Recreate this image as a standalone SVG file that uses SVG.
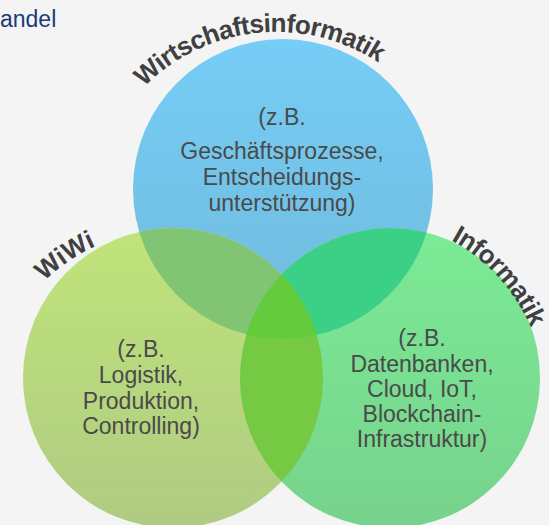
<svg xmlns="http://www.w3.org/2000/svg" width="549" height="525" viewBox="0 0 549 525">
  <style>
    .arc { font-family: "Liberation Sans", Arial, sans-serif; font-weight: bold; font-size: 26px; fill: #404040; }
    .body { font-family: "Liberation Sans", Arial, sans-serif; font-size: 23px; fill: #4a4a4a; text-anchor: middle; }
    .head { font-family: "Liberation Sans", Arial, sans-serif; font-size: 23px; fill: #1c3b7a; }
  </style>
  <defs>
    <linearGradient id="gBlue" x1="0" y1="0" x2="0" y2="1">
      <stop offset="0" stop-color="#76CDF6"/>
      <stop offset="1" stop-color="#70BADC"/>
    </linearGradient>
    <linearGradient id="gLeft" x1="0" y1="0" x2="0" y2="1">
      <stop offset="0" stop-color="#C0E47A"/>
      <stop offset="1" stop-color="#AFCB82"/>
    </linearGradient>
    <linearGradient id="gRight" x1="0" y1="0" x2="0" y2="1">
      <stop offset="0" stop-color="#7BEB96"/>
      <stop offset="1" stop-color="#77D28C"/>
    </linearGradient>
    <clipPath id="cBlue"><circle cx="283" cy="189" r="150"/></clipPath>
    <clipPath id="cLeft"><circle cx="173" cy="378" r="150"/></clipPath>
    <clipPath id="cRight"><circle cx="390" cy="378" r="150"/></clipPath>
    <path id="pTop" d="M 95.5 173 A 186 186 0 0 1 443.2 136.5" fill="none"/>
    <path id="pLeft" d="M -8.5 421.5 A 177 177 0 0 1 246 249" fill="none"/>
    <path id="pRight" d="M 326 222 A 182 182 0 0 1 538 453" fill="none"/>
  </defs>
  <rect x="0" y="0" width="549" height="525" fill="#F4F4F4"/>
  <text class="head" x="0" y="27">andel</text>

  <g id="circle-wirtschaftsinformatik">
    <circle cx="283" cy="189" r="150" fill="url(#gBlue)"/>
  </g>
  <g id="circle-wiwi">
    <circle cx="173" cy="378" r="150" fill="url(#gLeft)"/>
  </g>
  <g id="circle-informatik">
    <circle cx="390" cy="378" r="150" fill="url(#gRight)"/>
  </g>
  <g id="overlaps">
    <circle cx="173" cy="378" r="150" fill="#80C474" clip-path="url(#cBlue)"/>
    <circle cx="390" cy="378" r="150" fill="#3CD086" clip-path="url(#cBlue)"/>
    <circle cx="173" cy="378" r="150" fill="#76C943" clip-path="url(#cRight)"/>
    <g clip-path="url(#cRight)">
      <circle cx="283" cy="189" r="150" fill="#64CB3C" clip-path="url(#cLeft)"/>
    </g>
  </g>

  <g id="label-wirtschaftsinformatik">
    <text class="arc" letter-spacing="-0.6"><textPath href="#pTop" startOffset="50%" text-anchor="middle">Wirtschaftsinformatik</textPath></text>
    <text class="body" x="282" y="125">(z.B.</text>
    <text class="body" x="282" y="159">Geschäftsprozesse,</text>
    <text class="body" x="282" y="185">Entscheidungs-</text>
    <text class="body" x="282" y="211">unterstützung)</text>
  </g>
  <g id="label-wiwi">
    <text class="arc"><textPath href="#pLeft" startOffset="50%" text-anchor="middle">WiWi</textPath></text>
    <text class="body" x="141" y="357">(z.B.</text>
    <text class="body" x="141" y="383">Logistik,</text>
    <text class="body" x="141" y="409">Produktion,</text>
    <text class="body" x="141" y="434">Controlling)</text>
  </g>
  <g id="label-informatik">
    <text class="arc" font-size="25" letter-spacing="-0.6"><textPath href="#pRight" startOffset="50%" text-anchor="middle">Informatik</textPath></text>
    <text class="body" x="422" y="346">(z.B.</text>
    <text class="body" x="422" y="372">Datenbanken,</text>
    <text class="body" x="422" y="397">Cloud, IoT,</text>
    <text class="body" x="422" y="422">Blockchain-</text>
    <text class="body" x="422" y="447">Infrastruktur)</text>
  </g>
  <g id="connectors"></g>
</svg>
